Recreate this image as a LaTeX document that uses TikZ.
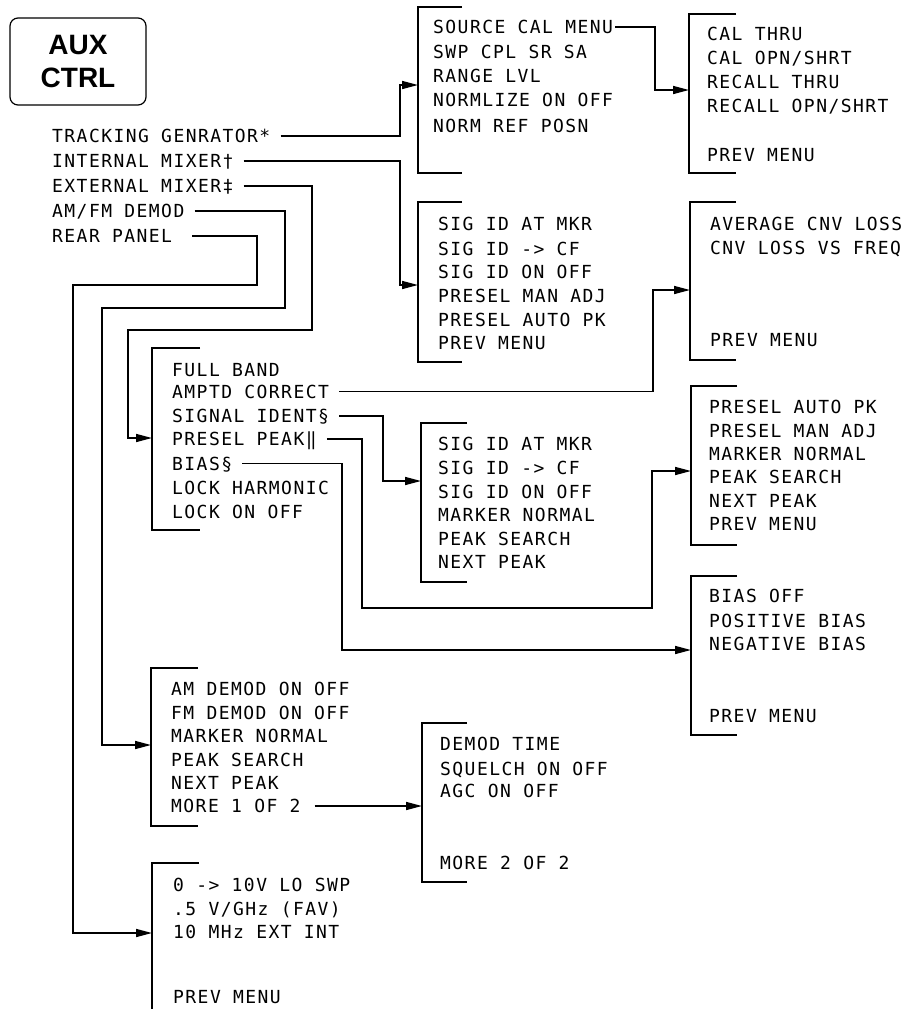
\documentclass[tikz,border=0pt]{standalone}
\usepackage{fontspec}
\usetikzlibrary{arrows.meta}
\newfontfamily\plotfont[LetterSpace=8]{DejaVu Sans Mono}
\newfontfamily\keyfont{Liberation Sans}
\tikzset{
  item/.style={anchor=west, inner sep=0pt, text height=13pt, text depth=0pt,
    font=\plotfont\fontsize{18}{20}\selectfont},
  bracket/.style={line width=1.6pt},
  link/.style={line width=1.6pt, -{Triangle[length=16pt,width=8pt]}, shorten <=10pt},
}
\begin{document}
\begin{tikzpicture}[x=1pt,y=-1pt]
  \useasboundingbox (0,0) rectangle (905,1009);

  % hard key
  \node[draw, line width=1.2pt, rounded corners=8pt, minimum width=136pt, minimum height=87pt,
    align=center, font=\keyfont\bfseries\fontsize{28}{33}\selectfont] (aux) at (78,61.5) {AUX\\CTRL};

  % softkeys of the key
  \node[item] (trk) at (52,136) {TRACKING GENRATOR*};
  \node[item] (imx) at (52,161) {INTERNAL MIXER†};
  \node[item] (emx) at (52,186) {EXTERNAL MIXER‡};
  \node[item] (amfm) at (52,211) {AM/FM DEMOD};
  \node[item] (rear) at (52,236) {REAR PANEL};

  % menu brackets
  \draw[bracket] (462,7) -| (418,173) -- (462,173);
  \draw[bracket] (736,14) -| (689,173) -- (736,173);
  \draw[bracket] (462,202) -| (418,362) -- (462,362);
  \draw[bracket] (736,202) -| (690,360) -- (736,360);
  \draw[bracket] (200,348) -| (152,530) -- (200,530);
  \draw[bracket] (467,423) -| (421,582) -- (467,582);
  \draw[bracket] (737,386) -| (691,545) -- (737,545);
  \draw[bracket] (737,576) -| (691,735) -- (737,735);
  \draw[bracket] (198,668) -| (151,826) -- (198,826);
  \draw[bracket] (467,723) -| (422,882) -- (467,882);
  \draw[bracket] (199,863) -| (152,1009);

  % tracking generator
  \node[item] (src1) at (433,27) {SOURCE CAL MENU};
  \node[item] (src2) at (433,51.5) {SWP CPL SR SA};
  \node[item] (src3) at (433,75.5) {RANGE LVL};
  \node[item] (src4) at (433,100) {NORMLIZE ON OFF};
  \node[item] (src5) at (433,125.5) {NORM REF POSN};

  \node[item] (cal1) at (707,33.5) {CAL THRU};
  \node[item] (cal2) at (707,58) {CAL OPN/SHRT};
  \node[item] (cal3) at (707,82) {RECALL THRU};
  \node[item] (cal4) at (707,106) {RECALL OPN/SHRT};
  \node[item] (cal5) at (707,154.5) {PREV MENU};

  % internal mixer
  \node[item] (sid1) at (438,224) {SIG ID AT MKR};
  \node[item] (sid2) at (438,248.5) {SIG ID -> CF};
  \node[item] (sid3) at (438,272) {SIG ID ON OFF};
  \node[item] (sid4) at (438,295.5) {PRESEL MAN ADJ};
  \node[item] (sid5) at (438,319.5) {PRESEL AUTO PK};
  \node[item] (sid6) at (438,342.5) {PREV MENU};

  % external mixer
  \node[item] (fb1) at (172,369.5) {FULL BAND};
  \node[item] (ampc) at (172,391.5) {AMPTD CORRECT};
  \node[item] (sigi) at (172,416) {SIGNAL IDENT§};
  \node[item] (prpk) at (172,439) {PRESEL PEAK‖};
  \node[item] (bias) at (172,463.5) {BIAS§};
  \node[item] (fb6) at (172,488) {LOCK HARMONIC};
  \node[item] (fb7) at (172,512) {LOCK ON OFF};

  \node[item] (cnv1) at (710,224) {AVERAGE CNV LOSS};
  \node[item] (cnv2) at (710,248) {CNV LOSS VS FREQ};
  \node[item] (cnv3) at (710,340) {PREV MENU};

  \node[item] (sig1) at (438,443.5) {SIG ID AT MKR};
  \node[item] (sig2) at (438,467.5) {SIG ID -> CF};
  \node[item] (sig3) at (438,491.5) {SIG ID ON OFF};
  \node[item] (sig4) at (438,515) {MARKER NORMAL};
  \node[item] (sig5) at (438,539) {PEAK SEARCH};
  \node[item] (sig6) at (438,562) {NEXT PEAK};

  \node[item] (pp1) at (709,407) {PRESEL AUTO PK};
  \node[item] (pp2) at (709,431) {PRESEL MAN ADJ};
  \node[item] (pp3) at (709,454) {MARKER NORMAL};
  \node[item] (pp4) at (709,477) {PEAK SEARCH};
  \node[item] (pp5) at (709,501) {NEXT PEAK};
  \node[item] (pp6) at (709,524) {PREV MENU};

  \node[item] (bs1) at (709,596) {BIAS OFF};
  \node[item] (bs2) at (709,620.5) {POSITIVE BIAS};
  \node[item] (bs3) at (709,644) {NEGATIVE BIAS};
  \node[item] (bs4) at (709,716) {PREV MENU};

  % am/fm demod
  \node[item] (am1) at (171,688.5) {AM DEMOD ON OFF};
  \node[item] (am2) at (171,712.5) {FM DEMOD ON OFF};
  \node[item] (am3) at (171,736) {MARKER NORMAL};
  \node[item] (am4) at (171,759.5) {PEAK SEARCH};
  \node[item] (am5) at (171,783) {NEXT PEAK};
  \node[item] (more1) at (171,806) {MORE 1 OF 2};

  \node[item] (dm1) at (440,744) {DEMOD TIME};
  \node[item] (dm2) at (440,768.5) {SQUELCH ON OFF};
  \node[item] (dm3) at (440,791) {AGC ON OFF};
  \node[item] (dm4) at (440,862.5) {MORE 2 OF 2};

  % rear panel
  \node[item] (rp1) at (173,884.5) {0 -> 10V LO SWP};
  \node[item] (rp2) at (173,909) {.5 V/GHz (FAV)};
  \node[item] (rp3) at (173,932) {10 MHz EXT INT};
  \node[item] (rp4) at (173,997) {PREV MENU};

  % where the arrows go in
  \coordinate (srcin) at (418,85);
  \coordinate (sidin) at (418,285);
  \coordinate (calin) at (689,90);
  \coordinate (cnvin) at (690,290);
  \coordinate (fbin) at (152,438);
  \coordinate (sigin) at (421,481);
  \coordinate (ppin) at (691,471);
  \coordinate (biasin) at (691,650);
  \coordinate (amin) at (151,745);
  \coordinate (dmin) at (422,806);
  \coordinate (rpin) at (152,933);
  \coordinate (emxbend) at (312,330);
  \coordinate (amfmbend) at (285,308);
  \coordinate (rearbend) at (257,285);
  \coordinate (prpkbend) at (362,608);

  \draw[link] (trk.east) -| ([xshift=-18pt]srcin) -- (srcin);
  \draw[link] (imx.east) -| ([xshift=-18pt]sidin) -- (sidin);
  \draw[link] (emx.east) -| (emxbend) -| ([xshift=-24pt]fbin) -- (fbin);
  \draw[link] (amfm.east) -| (amfmbend) -| ([xshift=-49pt]amin) -- (amin);
  \draw[link, shorten <=20pt] (rear.east) -| (rearbend) -| ([xshift=-79pt]rpin) -- (rpin);
  \draw[link, shorten <=2pt] (src1.east) -| ([xshift=-34pt]calin) -- (calin);
  \draw[link] (ampc.east) -| ([xshift=-37pt]cnvin) -- (cnvin);
  \draw[link] (sigi.east) -| ([xshift=-38pt]sigin) -- (sigin);
  \draw[link] (prpk.east) -| (prpkbend) -| ([xshift=-39pt]ppin) -- (ppin);
  \draw[link] (bias.east) -| ([xshift=-349pt]biasin) -- (biasin);
  \draw[link, shorten <=14pt] (more1.east) -- (dmin);
\end{tikzpicture}
\end{document}
